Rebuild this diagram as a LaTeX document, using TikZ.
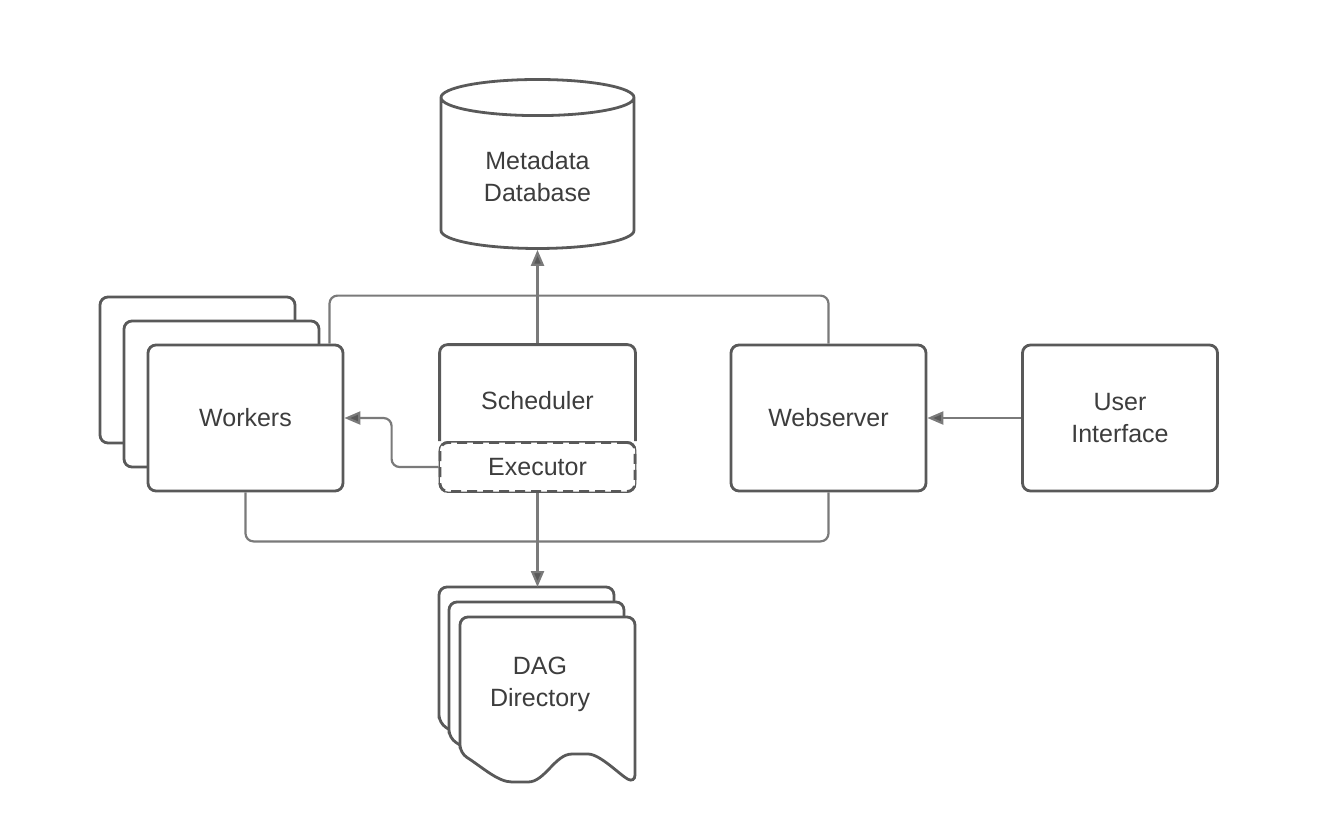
\documentclass[tikz,border=0pt]{standalone}
\usepackage{fontspec}
\setmainfont{Liberation Sans}
\usetikzlibrary{arrows.meta,positioning,calc,shapes.geometric}
\definecolor{boxgray}{HTML}{595959}
\definecolor{linkgray}{HTML}{7A7A7A}
\definecolor{textgray}{HTML}{3D3D3D}

\begin{document}
\begin{tikzpicture}[x=0.5pt, y=-0.5pt,
  box/.style={rectangle, rounded corners=4pt, draw=boxgray, line width=1.4pt, fill=white, minimum width=97.5pt, minimum height=73pt, align=center, text=textgray, font=\fontsize{12.5}{16}\selectfont},
  tag/.style={align=center, text=textgray, font=\fontsize{12.5}{16}\selectfont},
  store/.style={cylinder, shape border rotate=90, aspect=0.3, draw=boxgray, line width=1.4pt, fill=white, minimum width=96.5pt, minimum height=84.5pt, align=center, text=textgray, font=\fontsize{12.5}{16}\selectfont},
  link/.style={draw=linkgray, line width=1.1pt, rounded corners=4pt},
  arrow/.style={link, -{Triangle[length=8pt, width=6.5pt]}, arrows={[fill=boxgray]}},
  dagpage/.pic={
    \draw[draw=boxgray, line width=1.4pt, fill=white, rounded corners=4pt]
      (0,136) -- (0,0) -- (175,0) -- (175,166)
      .. controls (160,158) and (140,137) .. (120,137)
      .. controls (95,137) and (85,165) .. (60,165)
      .. controls (38,165) and (22,150) .. (0,136) -- cycle;
  }
]
\useasboundingbox (0,0) rectangle (1344,816);

% database
\node[store] (db) at (537.5,177) {Metadata\\Database};

% workers, stacked
\node[box] (workersC) at (197.5,370) {};
\node[box] (workersB) at (221.5,394) {};
\node[box] (workers) at (245.5,418) {Workers};

% scheduler with executor
\node[box, minimum height=24.5pt] (exec) at (537.5,467) {Executor};
\node[tag, minimum width=97.5pt, minimum height=56pt] (sched) at (537.5,401) {Scheduler};

\node[box] (web) at (828.5,418) {Webserver};
\node[box] (ui) at (1120,418) {User\\Interface};

% DAG files
\pic at (439,587) {dagpage};
\pic at (449,602) {dagpage};
\pic at (460,617) {dagpage};
\node[tag] (dag) at (540,684) {DAG\\Directory};
\coordinate (dagtop) at (537.5,587);

% buses
\draw[link] ($(workers.north)+(84,0)$) |- ($(web.north)+(0,-48)$) -- (web.north);
\draw[link] (workers.south) |- ($(web.south)+(0,49)$) -- (web.south);

\draw[arrow] (sched.north) -- (db.south);
\draw[arrow] (exec.south) -- (dagtop);
\draw[arrow] (exec.west) -- ++(-47,0) |- (workers.east);
\draw[arrow] (ui) -- (web);

% scheduler outline
\draw[draw=boxgray, line width=1.4pt, rounded corners=4pt] (sched.north west |- exec.north) -- (sched.north west) -- (sched.north east) -- (sched.north east |- exec.north);
\node[box, dashed, dash pattern=on 5pt off 3pt, minimum height=24.5pt] at (537.5,467) {Executor};
\end{tikzpicture}
\end{document}
